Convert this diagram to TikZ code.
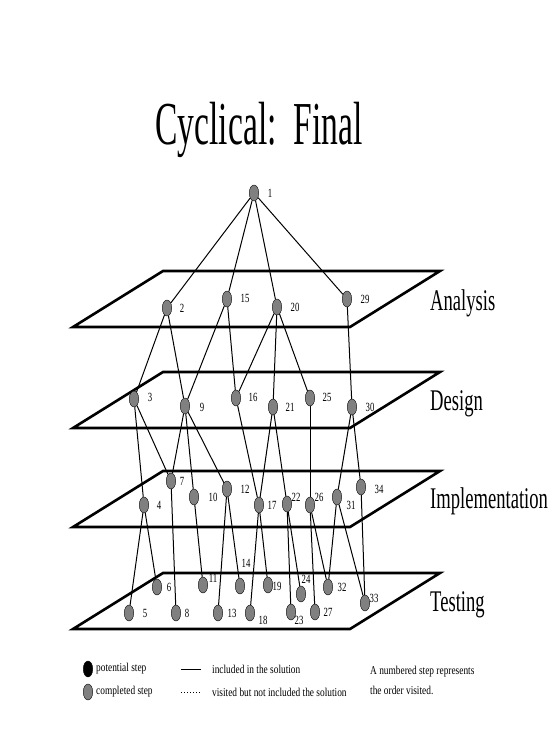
\documentclass[tikz,border=0pt]{standalone}
\usepackage{fontspec}
\setmainfont{Liberation Serif}
\newfontfamily\titlefont{Liberation Serif}[FakeStretch=0.55]
\newfontfamily\planefont{Liberation Serif}[FakeStretch=0.62]
\newfontfamily\numfont{Liberation Serif}[FakeStretch=0.7]
\newfontfamily\legendfont{Liberation Serif}[FakeStretch=0.78]
\usetikzlibrary{shapes.geometric}
\definecolor{stepgray}{RGB}{128,128,128}

\begin{document}
\begin{tikzpicture}[x=1pt,y=-1pt]
\tikzstyle{stepnode} = [ellipse, draw=black, fill=stepgray, minimum width=9.5pt, minimum height=16pt, inner sep=0pt]
\tikzstyle{numlbl} = [inner sep=0pt, font=\numfont\fontsize{12.5}{12.5}\selectfont]
\tikzstyle{planelbl} = [inner sep=0pt, font=\planefont\fontsize{30}{30}\selectfont]
\tikzstyle{legendlbl} = [inner sep=0pt, font=\legendfont\fontsize{12}{12}\selectfont]
\tikzstyle{titlelbl} = [inner sep=0pt, font=\titlefont\fontsize{61}{61}\selectfont]
\tikzstyle{plane} = [line width=2.6pt, line join=miter]
\tikzstyle{link} = [line width=1pt]
\useasboundingbox (0,0) rectangle (555,741);

\node (title) [titlelbl, anchor=base] at (259,144) {Cyclical:\ \ Final};

% the four phase planes
\foreach \y in {271,372,471,573}
  \draw[plane] (73,\y+56) -- (350,\y+56) -- (440,\y) -- (163,\y) -- cycle;
\node (analysis) [planelbl, anchor=base west] at (430,310) {Analysis};
\node (design) [planelbl, anchor=base west] at (430,410) {Design};
\node (implementation) [planelbl, anchor=base west] at (430,508) {Implementation};
\node (testing) [planelbl, anchor=base west] at (430,611) {Testing};

% steps: number / position / label position
\foreach \n/\x/\y/\lx/\ly in {1/254/193/270/193,
  2/167/308/182/308, 15/227/299/245/298, 20/277/307/295/307, 29/347/299/365/299,
  3/134/399/150/397, 9/185/406/202/407, 16/236/398/253/397, 21/273/407/290/407,
  25/310/398/327/397, 30/352/407/370/407,
  7/171/481/182/481, 4/144/505/159/505, 10/194/497/213/497, 12/227/489/245/489,
  17/259/505/272/505, 22/287/504/296/497, 26/310/505/319/497, 31/337/497/351/505,
  34/361/487/379/489,
  6/157/587/169/587, 11/203/585/213/578, 14/240/586/246/563, 19/268/585/277/586,
  24/301/594/306/579, 32/328/587/342/587, 33/365/603/374/598,
  5/129/613/145/613, 8/176/613/187/613, 13/218/613/232/613, 18/250/613/263/620,
  23/291/612/299/620, 27/315/612/328/612}
{
  \node (s\n) [stepnode] at (\x,\y) {};
  \node (l\n) [numlbl] at (\lx,\ly) {\n};
}

% paths taken
\foreach \a/\b in {1/2, 1/15, 1/20, 1/29,
  2/3, 2/9, 15/9, 15/16, 20/16, 20/21, 20/25, 29/30,
  3/4, 3/7, 9/7, 9/10, 9/12, 16/17, 21/17, 21/22, 25/26, 30/31, 30/34,
  4/5, 4/6, 7/8, 10/11, 12/13, 12/14, 17/18, 17/19, 22/23, 22/24,
  26/27, 26/32, 31/32, 31/33, 34/33}
  \draw[link] (s\a) -- (s\b);

% legend
\node (potential) [stepnode, fill=black] at (88,669) {};
\node (potentialtxt) [legendlbl, anchor=west] at (96,669) {potential step};
\node (completed) [stepnode] at (88,692) {};
\node (completedtxt) [legendlbl, anchor=west] at (96,692) {completed step};
\coordinate (solA) at (181,669);
\coordinate (solB) at (201,669);
\draw[link] (solA) -- (solB);
\node (soltxt) [legendlbl, anchor=west] at (212,669) {included in the solution};
\coordinate (visA) at (181,692);
\coordinate (visB) at (201,692);
\draw[link, dotted] (visA) -- (visB);
\node (vistxt) [legendlbl, anchor=west] at (212,692) {visited but not included the solution};
\node (notetop) [legendlbl, anchor=west] at (370,672) {A numbered step represents};
\node (notebot) [legendlbl, anchor=west] at (370,690) {the order visited.};
\end{tikzpicture}
\end{document}
